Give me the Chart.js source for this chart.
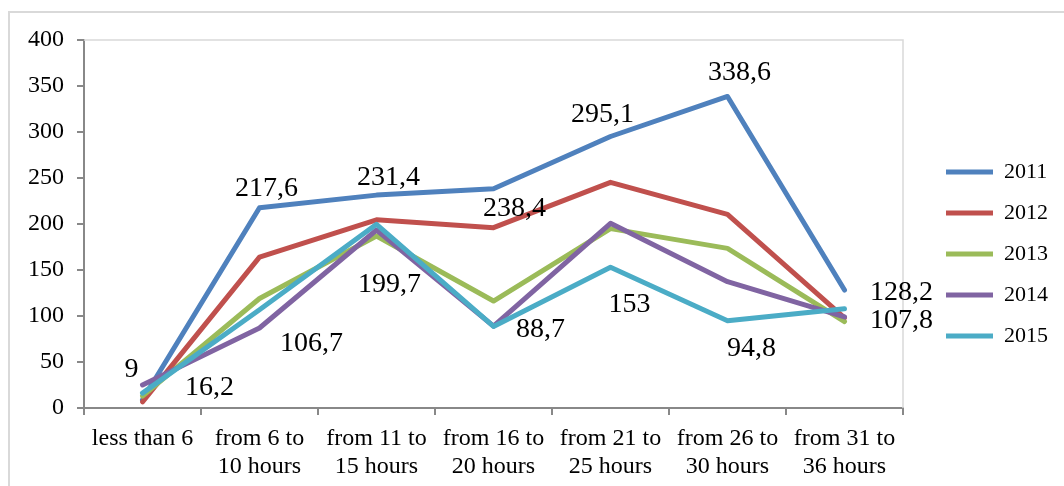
<!DOCTYPE html>
<html>
<head>
<meta charset="utf-8">
<script src="https://cdn.jsdelivr.net/npm/chart.js@4.4.1/dist/chart.umd.min.js"></script>
<style>
  html, body { margin: 0; padding: 0; background: #ffffff; }
  #wrap { width: 1064px; height: 486px; position: relative; }
</style>
</head>
<body>
<div id="wrap"><canvas id="chart"></canvas></div>
<script>
// Hours-per-week groups along the x axis
const categories = [
  'less than 6',
  ['from 6 to', '10 hours'],
  ['from 11 to', '15 hours'],
  ['from 16 to', '20 hours'],
  ['from 21 to', '25 hours'],
  ['from 26 to', '30 hours'],
  ['from 31 to', '36 hours']
];

// One series per year
const years = ['2011', '2012', '2013', '2014', '2015'];
const values2011 = [9, 217.6, 231.4, 238.4, 295.1, 338.6, 128.2];
const values2012 = [6.6, 164, 204.5, 196, 245.3, 210.5, 98];
const values2013 = [13, 119, 187, 116.3, 195, 173.5, 94];
const values2014 = [25, 87, 193.5, 89, 200.7, 137.3, 99];
const values2015 = [16.2, 106.7, 199.7, 88.7, 153, 94.8, 107.8];

// Value axis range
const yMin = 0;
const yMax = 400;
const yStep = 50;

// Styling
const colors = ['#4F81BD', '#C0504D', '#9BBB59', '#8064A2', '#4BACC6'];
const FONT = '"Liberation Serif", "Times New Roman", serif';

// Pixel nudges for the value labels of 2011 and 2015 (dx, dy from each point)
const labelNudge2011 = [[-11, -30], [7, -19], [12, -17], [21, 20], [-8, -22], [12, -24], [57, 3]];
const labelNudge2015 = [[67, -5], [52, 34], [13, 60], [47, 3], [19, 37], [24, 28], [57, 12]];

const seriesValues = [values2011, values2012, values2013, values2014, values2015];
const seriesNudges = [labelNudge2011, null, null, null, labelNudge2015];

const fmt = v => String(v).replace('.', ',');

// Value labels drawn next to their points
const valueLabels = {
  id: 'valueLabels',
  afterDatasetsDraw(chart) {
    const ctx = chart.ctx;
    ctx.save();
    ctx.font = '28px ' + FONT;
    ctx.fillStyle = '#000000';
    ctx.textAlign = 'center';
    ctx.textBaseline = 'middle';
    chart.data.datasets.forEach((ds, di) => {
      if (!ds.labelNudge) return;
      const meta = chart.getDatasetMeta(di);
      meta.data.forEach((pt, i) => {
        const [dx, dy] = ds.labelNudge[i];
        ctx.fillText(fmt(ds.data[i]), pt.x + dx, pt.y + dy);
      });
    });
    ctx.restore();
  }
};

// Outer frame and the light top/right edges of the plot area
const frame = {
  id: 'frame',
  beforeDatasetsDraw(chart) {
    const ctx = chart.ctx;
    const a = chart.chartArea;
    ctx.save();
    ctx.strokeStyle = '#d9d9d9';
    ctx.lineWidth = 2;
    ctx.beginPath();
    ctx.moveTo(9, chart.height);
    ctx.lineTo(9, 12);
    ctx.lineTo(chart.width, 12);
    ctx.stroke();
    ctx.lineWidth = 1.5;
    ctx.beginPath();
    ctx.moveTo(a.left, a.top);
    ctx.lineTo(a.right, a.top);
    ctx.lineTo(a.right, a.bottom);
    ctx.stroke();
    ctx.restore();
  }
};

// Empty layout box that keeps a gap between the plot and the legend
const legendGap = {
  id: 'legendGap',
  beforeInit(chart) {
    Chart.layouts.addBox(chart, {
      position: 'right',
      weight: 500,
      fullSize: false,
      options: {},
      left: 0, top: 0, right: 0, bottom: 0, width: 0, height: 0,
      isHorizontal() { return false; },
      update(maxWidth, maxHeight) { this.width = 24; this.height = maxHeight; },
      draw() {}
    });
  }
};

const datasets = years.map((y, i) => ({
  label: y,
  data: seriesValues[i],
  borderColor: colors[i],
  backgroundColor: colors[i],
  borderWidth: 5,
  borderCapStyle: 'round',
  borderJoinStyle: 'round',
  pointRadius: 0,
  pointHoverRadius: 0,
  tension: 0,
  fill: false,
  order: years.length - i,
  labelNudge: seriesNudges[i]
}));

new Chart(document.getElementById('chart'), {
  type: 'line',
  data: { labels: categories, datasets },
  plugins: [legendGap, frame, valueLabels],
  options: {
    responsive: true,
    maintainAspectRatio: false,
    animation: false,
    devicePixelRatio: 1,
    layout: { padding: { top: 40, left: 0, right: 6, bottom: 0 } },
    plugins: {
      tooltip: { enabled: false },
      legend: {
        position: 'right',
        align: 'start',
        title: { display: true, text: '', font: { size: 10, lineHeight: 1 }, padding: { top: 46, bottom: 46 } },
        labels: {
          usePointStyle: true,
          pointStyle: 'line',
          pointStyleWidth: 47,
          padding: 19,
          color: '#000000',
          font: { family: FONT, size: 22 },
          sort: (a, b) => a.datasetIndex - b.datasetIndex
        }
      }
    },
    scales: {
      x: {
        type: 'category',
        offset: true,
        afterFit(scale) { scale.height = 78; },
        grid: { display: true, offset: true, drawOnChartArea: false, drawTicks: true, tickLength: 7, color: '#888888', lineWidth: 2 },
        border: { display: true, color: '#888888', width: 2 },
        ticks: {
          color: '#000000',
          font: { family: FONT, size: 24, lineHeight: 1.2 },
          padding: 9,
          maxRotation: 0,
          autoSkip: false
        }
      },
      y: {
        min: yMin,
        max: yMax,
        afterFit(scale) { scale.width = 84; },
        grid: { display: true, drawOnChartArea: false, drawTicks: true, tickLength: 7, color: '#888888', lineWidth: 2 },
        border: { display: true, color: '#888888', width: 2 },
        ticks: {
          stepSize: yStep,
          color: '#000000',
          font: { family: FONT, size: 24 },
          padding: 13
        }
      }
    }
  }
});
</script>
</body>
</html>
